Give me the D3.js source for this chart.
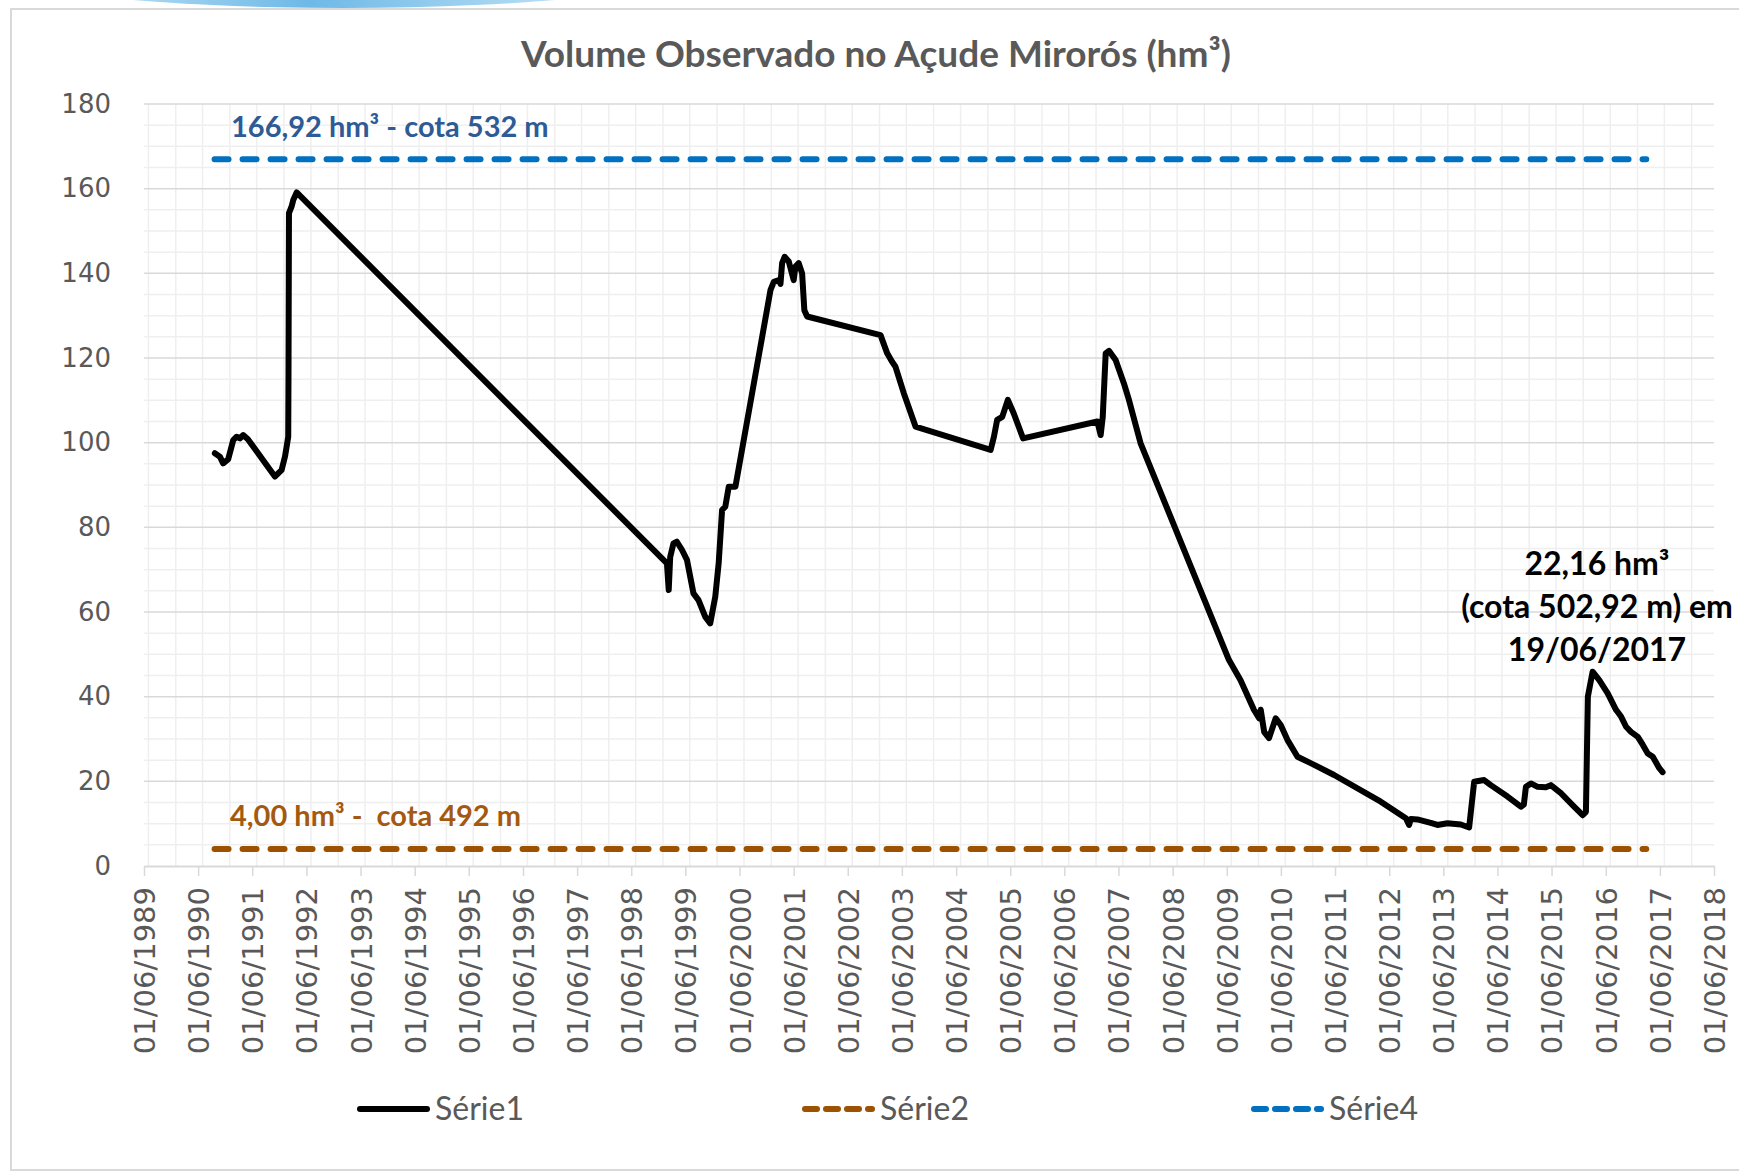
<!DOCTYPE html>
<html>
<head>
<meta charset="utf-8">
<script src="https://cdn.jsdelivr.net/npm/d3@7"></script>
<style>
  body { margin: 0; background: #fff; }
  svg { display: block; }
</style>
</head>
<body>
<div id="chart"></div>
<script>
// observed volume (hm3) of Açude Mirorós
const obsDates = [
  "1990-09-22", "1990-10-26", "1990-11-17", "1990-12-21", "1991-01-24", "1991-02-16",
  "1991-03-10", "1991-04-01", "1991-05-03", "1991-11-01", "1991-12-16", "1992-01-08",
  "1992-01-19", "1992-01-30", "1992-02-01", "1992-02-04", "1992-02-22", "1992-03-04",
  "1992-03-27", "1999-01-28", "1999-02-09", "1999-02-19", "1999-03-13", "1999-04-05",
  "1999-05-09", "1999-06-12", "1999-07-26", "1999-08-29", "1999-10-13", "1999-11-16",
  "1999-12-20", "2000-01-12", "2000-02-04", "2000-02-26", "2000-03-20", "2000-05-04",
  "2000-12-27", "2001-01-18", "2001-02-21", "2001-03-04", "2001-03-15", "2001-04-01",
  "2001-04-29", "2001-06-01", "2001-06-13", "2001-07-05", "2001-07-28", "2001-08-12",
  "2001-08-31", "2003-01-08", "2003-02-22", "2003-03-27", "2003-04-18", "2003-06-14",
  "2003-09-01", "2005-01-20", "2005-02-11", "2005-03-05", "2005-04-08", "2005-05-16",
  "2005-06-25", "2005-08-27", "2007-01-10", "2007-02-01", "2007-02-15", "2007-03-07",
  "2007-03-29", "2007-05-13", "2007-07-08", "2007-08-11", "2007-10-28", "2009-06-15",
  "2009-09-02", "2009-12-01", "2010-01-05", "2010-01-16", "2010-02-08", "2010-03-13",
  "2010-04-27", "2010-05-31", "2010-07-15", "2010-09-21", "2010-12-19", "2011-05-26",
  "2012-04-05", "2012-09-21", "2012-10-13", "2012-10-25", "2012-12-08", "2013-03-08",
  "2013-04-22", "2013-06-29", "2013-09-27", "2013-11-22", "2013-12-26", "2014-03-03",
  "2014-04-17", "2014-08-08", "2014-11-06", "2014-11-26", "2014-12-10", "2015-01-13",
  "2015-02-27", "2015-04-23", "2015-05-27", "2015-08-03", "2015-10-21", "2015-12-28",
  "2016-01-19", "2016-02-01", "2016-03-04", "2016-04-18", "2016-06-14", "2016-08-09",
  "2016-09-12", "2016-10-16", "2016-11-18", "2017-01-03", "2017-02-06", "2017-03-11",
  "2017-04-14", "2017-05-28", "2017-06-19"
];
const obsVolume = [
  97.5, 96.7, 95.1, 96.1, 100.6, 101.4,
  101.0, 101.8, 100.8, 92.0, 93.5, 96.7,
  99.0, 101.4, 117.2, 154.2, 155.8, 157.3,
  159.1, 71.5, 65.2, 73.0, 76.2, 76.6,
  74.7, 72.3, 64.4, 62.8, 58.9, 57.3,
  63.6, 71.5, 84.1, 84.9, 89.6, 89.6,
  136.1, 138.0, 138.4, 137.5, 142.4, 143.9,
  142.8, 138.4, 141.6, 142.4, 140.0, 131.3,
  129.8, 125.4, 121.1, 119.1, 118.0, 111.7,
  103.8, 98.3, 101.4, 105.4, 106.1, 110.1,
  106.9, 101.0, 105.0, 101.8, 106.0, 121.1,
  121.7, 119.5, 114.0, 110.1, 99.9, 48.7,
  43.9, 36.9, 34.9, 36.9, 31.7, 30.2,
  34.9, 33.3, 29.8, 25.8, 24.3, 21.5,
  15.2, 11.3, 9.7, 11.1, 11.0, 10.2,
  9.7, 10.1, 9.8, 9.1, 19.9, 20.3,
  19.1, 16.4, 14.0, 14.5, 18.7, 19.5,
  18.7, 18.6, 19.1, 17.2, 14.4, 12.0,
  12.8, 40.0, 45.9, 43.9, 40.8, 36.9,
  35.3, 32.9, 31.7, 30.5, 28.6, 26.6,
  25.8, 23.1, 22.16
];

// reference levels: Série2 (dead volume) and Série4 (full capacity)
const refDates = ["1990-09-20", "2017-03-01"];
const serie2 = [4.0, 4.0];
const serie4 = [166.92, 166.92];

const yTicks = [0, 20, 40, 60, 80, 100, 120, 140, 160, 180];
const xTickYears = d3.range(1989, 2019);

const chartTitle = "Volume Observado no Açude Mirorós (hm³)";
const serie4Label = "166,92 hm³ - cota 532 m";
const serie2Label = "4,00 hm³ -  cota 492 m";
const noteLines = ["22,16 hm³", "(cota 502,92 m) em", "19/06/2017"];
const legendNames = ["Série1", "Série2", "Série4"];

const width = 1739;
const height = 1175;
const margin = { top: 104, right: 25, bottom: 309, left: 144 };

const parse = d3.timeParse("%Y-%m-%d");
const obs = obsDates.map((d, i) => ({ date: parse(d), v: obsVolume[i] }));
const ref2 = refDates.map((d, i) => ({ date: parse(d), v: serie2[i] }));
const ref4 = refDates.map((d, i) => ({ date: parse(d), v: serie4[i] }));

const svg = d3.select("#chart").append("svg")
  .attr("width", width)
  .attr("height", height);

// decorative blue shape peeking over the frame
const defs = svg.append("defs");
const grad = defs.append("linearGradient").attr("id", "topblob")
  .attr("x1", "0%").attr("x2", "100%");
grad.append("stop").attr("offset", "0%").attr("stop-color", "#d8eefa");
grad.append("stop").attr("offset", "45%").attr("stop-color", "#6db9e7");
grad.append("stop").attr("offset", "100%").attr("stop-color", "#dff1fb");
svg.append("ellipse")
  .attr("cx", 344).attr("cy", -30).attr("rx", 344).attr("ry", 38)
  .attr("fill", "url(#topblob)");

// chart frame
svg.append("rect")
  .attr("x", 11).attr("y", 9)
  .attr("width", width + 20).attr("height", 1161)
  .attr("fill", "#fff")
  .attr("stroke", "#d9d9d9")
  .attr("stroke-width", 2);

const x = d3.scaleTime()
  .domain([new Date(1989, 5, 1), new Date(2018, 5, 1)])
  .range([margin.left, width - margin.right]);

const y = d3.scaleLinear()
  .domain([0, 180])
  .range([height - margin.bottom, margin.top]);

const plotLeft = x.range()[0], plotRight = x.range()[1];
const plotTop = y(180), plotBottom = y(0);

// gridlines
const grid = svg.append("g");
const halfYears = d3.timeMonth.every(6).range(new Date(1989, 5, 1), new Date(2018, 5, 2));
grid.selectAll(".vgrid")
  .data(halfYears)
  .join("line")
  .attr("x1", d => x(d)).attr("x2", d => x(d))
  .attr("y1", plotTop).attr("y2", plotBottom)
  .attr("stroke", d => d.getMonth() === 5 ? "#e4e4e4" : "#efefef")
  .attr("stroke-width", 1.5);

grid.selectAll(".hminor")
  .data(d3.range(0, 181, 5).filter(v => v % 20 !== 0))
  .join("line")
  .attr("x1", plotLeft).attr("x2", plotRight)
  .attr("y1", d => y(d)).attr("y2", d => y(d))
  .attr("stroke", "#efefef")
  .attr("stroke-width", 1.5);

grid.selectAll(".hmajor")
  .data(yTicks.filter(v => v > 0))
  .join("line")
  .attr("x1", plotLeft).attr("x2", plotRight)
  .attr("y1", d => y(d)).attr("y2", d => y(d))
  .attr("stroke", "#d9d9d9")
  .attr("stroke-width", 1.5);

// y axis (labels only)
const yAxis = svg.append("g")
  .attr("transform", `translate(${plotLeft - 33},0)`)
  .call(d3.axisLeft(y).tickValues(yTicks).tickSize(0).tickPadding(0));
yAxis.select(".domain").remove();
yAxis.selectAll("text")
  .attr("font-family", "DejaVu Sans, Verdana, sans-serif")
  .attr("font-size", 26)
  .attr("fill", "#595959");

// x axis
const xAxis = svg.append("g")
  .attr("transform", `translate(0,${plotBottom})`)
  .call(d3.axisBottom(x)
    .tickValues(xTickYears.map(yr => new Date(yr, 5, 1)))
    .tickFormat(d3.timeFormat("%d/%m/%Y"))
    .tickSize(10)
    .tickSizeOuter(0));
xAxis.select(".domain").attr("stroke", "#d9d9d9").attr("stroke-width", 2);
xAxis.selectAll(".tick line").attr("stroke", "#d9d9d9").attr("stroke-width", 1.5);
xAxis.selectAll("text")
  .attr("font-family", "DejaVu Sans, Verdana, sans-serif")
  .attr("font-size", 29)
  .attr("fill", "#595959")
  .attr("text-anchor", "end")
  .attr("transform", "rotate(-90)")
  .attr("x", -21)
  .attr("y", 0)
  .attr("dy", "0.36em");

const line = d3.line()
  .x(d => x(d.date))
  .y(d => y(d.v));

const dash = "14,14";

// reference lines
svg.append("path")
  .datum(ref4)
  .attr("d", line)
  .attr("fill", "none")
  .attr("stroke", "#0070c0")
  .attr("stroke-width", 6)
  .attr("stroke-linecap", "round")
  .attr("stroke-dasharray", dash);

svg.append("path")
  .datum(ref2)
  .attr("d", line)
  .attr("fill", "none")
  .attr("stroke", "#9c5200")
  .attr("stroke-width", 6)
  .attr("stroke-linecap", "round")
  .attr("stroke-dasharray", dash);

// observed series
svg.append("path")
  .datum(obs)
  .attr("d", line)
  .attr("fill", "none")
  .attr("stroke", "#000")
  .attr("stroke-width", 6)
  .attr("stroke-linejoin", "round")
  .attr("stroke-linecap", "round");

const labelFont = "Lato, 'Open Sans', sans-serif";

// title
svg.append("text")
  .attr("x", 876).attr("y", 67)
  .attr("text-anchor", "middle")
  .attr("font-family", labelFont)
  .attr("font-weight", 700)
  .attr("font-size", 37)
  .attr("fill", "#595959")
  .text(chartTitle);

// reference line labels
svg.append("text")
  .attr("x", 231).attr("y", y(166.92) - 22)
  .attr("font-family", labelFont)
  .attr("font-weight", 700)
  .attr("font-size", 29)
  .attr("fill", "#2e5b95")
  .text(serie4Label);

svg.append("text")
  .attr("x", 230).attr("y", y(4) - 23)
  .attr("font-family", labelFont)
  .attr("font-weight", 700)
  .attr("font-size", 29)
  .attr("fill", "#a35a10")
  .style("white-space", "pre")
  .text(serie2Label);

// annotation for the last observation
svg.append("g")
  .selectAll("text")
  .data(noteLines)
  .join("text")
  .attr("x", 1597)
  .attr("y", (d, i) => 575 + i * 43)
  .attr("text-anchor", "middle")
  .attr("font-family", labelFont)
  .attr("font-weight", 700)
  .attr("font-size", 32)
  .attr("fill", "#000")
  .text(d => d);

// legend
const legendX = [357, 802, 1251];
const legendStroke = ["#000", "#9c5200", "#0070c0"];
const legendDash = [null, "12,9", "12,9"];
const legend = svg.append("g").attr("transform", "translate(0,1109)");
legendNames.forEach((name, i) => {
  legend.append("line")
    .attr("x1", legendX[i] + 3).attr("x2", legendX[i] + 70)
    .attr("y1", 0).attr("y2", 0)
    .attr("stroke", legendStroke[i])
    .attr("stroke-width", 6)
    .attr("stroke-linecap", "round")
    .attr("stroke-dasharray", legendDash[i]);
  legend.append("text")
    .attr("x", legendX[i] + 78)
    .attr("y", 0)
    .attr("dy", "0.35em")
    .attr("font-family", labelFont)
    .attr("font-size", 32)
    .attr("fill", "#595959")
    .text(name);
});
</script>
</body>
</html>
